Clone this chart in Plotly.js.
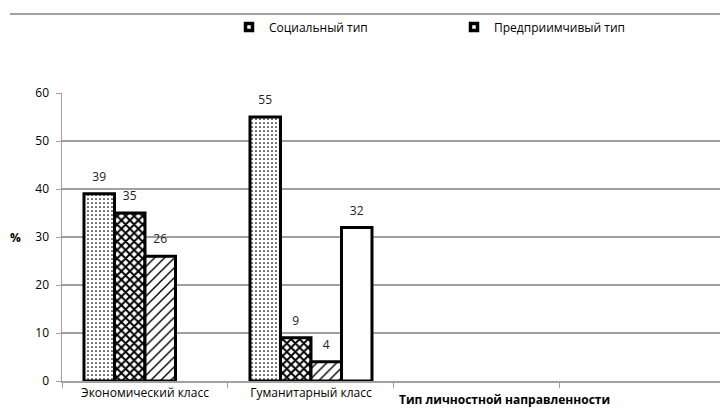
<!DOCTYPE html>
<html><head><meta charset="utf-8">
<script src="https://cdn.plot.ly/plotly-3.0.1.min.js"></script>
<style>html,body{margin:0;padding:0;background:#fff}#chart{width:720px;height:411px}</style>
</head><body><div id="chart"></div>
<script>
var categories = ['Экономический класс', 'Гуманитарный класс', ' ', '  '];
var socialValues = [39, 55, null, null];
var enterprisingValues = [35, 9, null, null];
var thirdValues = [26, 4, null, null];
var fourthValues = [null, 32, null, null];
var legendNames = ['Социальный тип', 'Предприимчивый тип'];
var yTicks = [0, 10, 20, 30, 40, 50, 60];
var xTitle = 'Тип личностной направленности';
var yTitle = '%';

var FONT = 'Open Sans, Noto Sans, sans-serif';
function barTrace(vals, pattern, name) {
  var m = {color: '#ffffff', line: {color: '#000', width: 3}};
  if (pattern) m.pattern = pattern;
  return {
    type: 'bar', x: categories, y: vals, name: name, showlegend: false,
    marker: m,
    text: vals.map(function(v){return v === null ? '' : String(v);}),
    texttemplate: '<span style="font-size:12px">%{text}</span><br> ',
    textposition: 'outside', cliponaxis: false, constraintext: 'none',
    textfont: {family: FONT, size: 6, color: '#222'},
    hoverinfo: 'skip'
  };
}
var data = [
  barTrace(socialValues, {shape: '.', size: 4, solidity: 0.15, fgcolor: '#000', bgcolor: '#fff', fgopacity: 1, fillmode: 'overlay'}, 's'),
  barTrace(enterprisingValues, {shape: 'x', size: 6, solidity: 0.55, fgcolor: '#000', bgcolor: '#fff', fgopacity: 1, fillmode: 'overlay'}, 'e'),
  barTrace(thirdValues, {shape: '/', size: 7, solidity: 0.2, fgcolor: '#000', bgcolor: '#fff', fgopacity: 1, fillmode: 'overlay'}, 't'),
  barTrace(fourthValues, null, 'f')
];
legendNames.forEach(function(n){
  data.push({type: 'scatter', mode: 'markers', x: [null], y: [null], name: n, showlegend: true,
    marker: {symbol: 'square-open', size: 7, color: '#000', line: {color: '#000', width: 3.5}}});
});

var layout = {
  width: 720, height: 411,
  margin: {l: 62, r: 0, t: 93, b: 30},
  paper_bgcolor: '#fff', plot_bgcolor: '#fff',
  font: {family: FONT, size: 12, color: '#000'},
  barmode: 'group', bargap: 0.265, bargroupgap: 0,
  xaxis: {
    type: 'category', categoryorder: 'array', categoryarray: categories,
    range: [-0.5, 3.464], tickson: 'boundaries', ticks: 'outside', ticklen: 5,
    tickcolor: '#a0a0a0', tickwidth: 1,
    showline: true, linecolor: '#a0a0a0', linewidth: 1.5, showgrid: false,
    tickfont: {family: FONT, size: 12, color: '#000'}, fixedrange: true
  },
  yaxis: {
    range: [0, 60], tickvals: yTicks, ticks: 'outside', ticklen: 5, tickcolor: '#a0a0a0',
    ticklabelstandoff: 4,
    showline: true, linecolor: '#a0a0a0', linewidth: 1.5,
    showgrid: true, gridcolor: '#a0a0a0', gridwidth: 1.5, zeroline: false,
    tickfont: {family: FONT, size: 12, color: '#000'}
  },
  showlegend: true,
  legend: {orientation: 'h', x: 229/720, xref: 'container', xanchor: 'left', y: 1-27/411, yref: 'container', yanchor: 'middle',
    entrywidth: 180, entrywidthmode: 'pixels', font: {family: FONT, size: 12, color: '#000'}, bgcolor: 'rgba(0,0,0,0)', itemclick: false},
  annotations: [
    {text: '<b>' + xTitle + '</b>', xref: 'paper', yref: 'paper', x: (397-62)/658, y: -18/288, xanchor: 'left', yanchor: 'middle', showarrow: false, font: {family: FONT, size: 12, color: '#000'}},
    {text: '<b>' + yTitle + '</b>', xref: 'paper', yref: 'paper', x: (15-62)/658, y: 0.5, xanchor: 'center', yanchor: 'middle', showarrow: false, font: {family: FONT, size: 12, color: '#000'}}
  ],
  shapes: [
    {type: 'line', xref: 'paper', yref: 'paper', x0: (10-62)/658, x1: 1, y0: (411-14-30)/288, y1: (411-14-30)/288, line: {color: '#a0a0a0', width: 2}}
  ]
};
Plotly.newPlot('chart', data, layout, {staticPlot: true});
</script></body></html>
